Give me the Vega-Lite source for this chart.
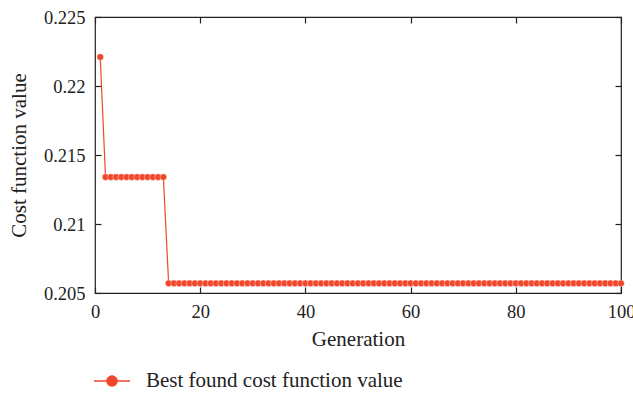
{
  "$schema": "https://vega.github.io/schema/vega-lite/v6.json",
  "autosize": "none",
  "width": 526,
  "height": 276,
  "padding": {"left": 95, "top": 17, "right": 12, "bottom": 100},
  "background": "white",
  "config": {
    "font": "Liberation Serif",
    "view": {"stroke": "#222", "strokeWidth": 1.2},
    "axis": {"grid": false, "domain": false, "offset": -6, "tickColor": "#222", "tickSize": 6, "tickWidth": 1.2, "labelFlush": false, "labelFontSize": 18.5, "labelColor": "#222", "titleFontSize": 21, "titleFontWeight": "normal", "titleColor": "#222", "labelFont": "Liberation Serif", "titleFont": "Liberation Serif"}
  },
  "data": {"values": [
    {"Generation": 1, "value": 0.2221, "series": "Best found cost function value"},
    {"Generation": 2, "value": 0.2134, "series": "Best found cost function value"},
    {"Generation": 3, "value": 0.2134, "series": "Best found cost function value"},
    {"Generation": 4, "value": 0.2134, "series": "Best found cost function value"},
    {"Generation": 5, "value": 0.2134, "series": "Best found cost function value"},
    {"Generation": 6, "value": 0.2134, "series": "Best found cost function value"},
    {"Generation": 7, "value": 0.2134, "series": "Best found cost function value"},
    {"Generation": 8, "value": 0.2134, "series": "Best found cost function value"},
    {"Generation": 9, "value": 0.2134, "series": "Best found cost function value"},
    {"Generation": 10, "value": 0.2134, "series": "Best found cost function value"},
    {"Generation": 11, "value": 0.2134, "series": "Best found cost function value"},
    {"Generation": 12, "value": 0.2134, "series": "Best found cost function value"},
    {"Generation": 13, "value": 0.2134, "series": "Best found cost function value"},
    {"Generation": 14, "value": 0.2057, "series": "Best found cost function value"},
    {"Generation": 15, "value": 0.2057, "series": "Best found cost function value"},
    {"Generation": 16, "value": 0.2057, "series": "Best found cost function value"},
    {"Generation": 17, "value": 0.2057, "series": "Best found cost function value"},
    {"Generation": 18, "value": 0.2057, "series": "Best found cost function value"},
    {"Generation": 19, "value": 0.2057, "series": "Best found cost function value"},
    {"Generation": 20, "value": 0.2057, "series": "Best found cost function value"},
    {"Generation": 21, "value": 0.2057, "series": "Best found cost function value"},
    {"Generation": 22, "value": 0.2057, "series": "Best found cost function value"},
    {"Generation": 23, "value": 0.2057, "series": "Best found cost function value"},
    {"Generation": 24, "value": 0.2057, "series": "Best found cost function value"},
    {"Generation": 25, "value": 0.2057, "series": "Best found cost function value"},
    {"Generation": 26, "value": 0.2057, "series": "Best found cost function value"},
    {"Generation": 27, "value": 0.2057, "series": "Best found cost function value"},
    {"Generation": 28, "value": 0.2057, "series": "Best found cost function value"},
    {"Generation": 29, "value": 0.2057, "series": "Best found cost function value"},
    {"Generation": 30, "value": 0.2057, "series": "Best found cost function value"},
    {"Generation": 31, "value": 0.2057, "series": "Best found cost function value"},
    {"Generation": 32, "value": 0.2057, "series": "Best found cost function value"},
    {"Generation": 33, "value": 0.2057, "series": "Best found cost function value"},
    {"Generation": 34, "value": 0.2057, "series": "Best found cost function value"},
    {"Generation": 35, "value": 0.2057, "series": "Best found cost function value"},
    {"Generation": 36, "value": 0.2057, "series": "Best found cost function value"},
    {"Generation": 37, "value": 0.2057, "series": "Best found cost function value"},
    {"Generation": 38, "value": 0.2057, "series": "Best found cost function value"},
    {"Generation": 39, "value": 0.2057, "series": "Best found cost function value"},
    {"Generation": 40, "value": 0.2057, "series": "Best found cost function value"},
    {"Generation": 41, "value": 0.2057, "series": "Best found cost function value"},
    {"Generation": 42, "value": 0.2057, "series": "Best found cost function value"},
    {"Generation": 43, "value": 0.2057, "series": "Best found cost function value"},
    {"Generation": 44, "value": 0.2057, "series": "Best found cost function value"},
    {"Generation": 45, "value": 0.2057, "series": "Best found cost function value"},
    {"Generation": 46, "value": 0.2057, "series": "Best found cost function value"},
    {"Generation": 47, "value": 0.2057, "series": "Best found cost function value"},
    {"Generation": 48, "value": 0.2057, "series": "Best found cost function value"},
    {"Generation": 49, "value": 0.2057, "series": "Best found cost function value"},
    {"Generation": 50, "value": 0.2057, "series": "Best found cost function value"},
    {"Generation": 51, "value": 0.2057, "series": "Best found cost function value"},
    {"Generation": 52, "value": 0.2057, "series": "Best found cost function value"},
    {"Generation": 53, "value": 0.2057, "series": "Best found cost function value"},
    {"Generation": 54, "value": 0.2057, "series": "Best found cost function value"},
    {"Generation": 55, "value": 0.2057, "series": "Best found cost function value"},
    {"Generation": 56, "value": 0.2057, "series": "Best found cost function value"},
    {"Generation": 57, "value": 0.2057, "series": "Best found cost function value"},
    {"Generation": 58, "value": 0.2057, "series": "Best found cost function value"},
    {"Generation": 59, "value": 0.2057, "series": "Best found cost function value"},
    {"Generation": 60, "value": 0.2057, "series": "Best found cost function value"},
    {"Generation": 61, "value": 0.2057, "series": "Best found cost function value"},
    {"Generation": 62, "value": 0.2057, "series": "Best found cost function value"},
    {"Generation": 63, "value": 0.2057, "series": "Best found cost function value"},
    {"Generation": 64, "value": 0.2057, "series": "Best found cost function value"},
    {"Generation": 65, "value": 0.2057, "series": "Best found cost function value"},
    {"Generation": 66, "value": 0.2057, "series": "Best found cost function value"},
    {"Generation": 67, "value": 0.2057, "series": "Best found cost function value"},
    {"Generation": 68, "value": 0.2057, "series": "Best found cost function value"},
    {"Generation": 69, "value": 0.2057, "series": "Best found cost function value"},
    {"Generation": 70, "value": 0.2057, "series": "Best found cost function value"},
    {"Generation": 71, "value": 0.2057, "series": "Best found cost function value"},
    {"Generation": 72, "value": 0.2057, "series": "Best found cost function value"},
    {"Generation": 73, "value": 0.2057, "series": "Best found cost function value"},
    {"Generation": 74, "value": 0.2057, "series": "Best found cost function value"},
    {"Generation": 75, "value": 0.2057, "series": "Best found cost function value"},
    {"Generation": 76, "value": 0.2057, "series": "Best found cost function value"},
    {"Generation": 77, "value": 0.2057, "series": "Best found cost function value"},
    {"Generation": 78, "value": 0.2057, "series": "Best found cost function value"},
    {"Generation": 79, "value": 0.2057, "series": "Best found cost function value"},
    {"Generation": 80, "value": 0.2057, "series": "Best found cost function value"},
    {"Generation": 81, "value": 0.2057, "series": "Best found cost function value"},
    {"Generation": 82, "value": 0.2057, "series": "Best found cost function value"},
    {"Generation": 83, "value": 0.2057, "series": "Best found cost function value"},
    {"Generation": 84, "value": 0.2057, "series": "Best found cost function value"},
    {"Generation": 85, "value": 0.2057, "series": "Best found cost function value"},
    {"Generation": 86, "value": 0.2057, "series": "Best found cost function value"},
    {"Generation": 87, "value": 0.2057, "series": "Best found cost function value"},
    {"Generation": 88, "value": 0.2057, "series": "Best found cost function value"},
    {"Generation": 89, "value": 0.2057, "series": "Best found cost function value"},
    {"Generation": 90, "value": 0.2057, "series": "Best found cost function value"},
    {"Generation": 91, "value": 0.2057, "series": "Best found cost function value"},
    {"Generation": 92, "value": 0.2057, "series": "Best found cost function value"},
    {"Generation": 93, "value": 0.2057, "series": "Best found cost function value"},
    {"Generation": 94, "value": 0.2057, "series": "Best found cost function value"},
    {"Generation": 95, "value": 0.2057, "series": "Best found cost function value"},
    {"Generation": 96, "value": 0.2057, "series": "Best found cost function value"},
    {"Generation": 97, "value": 0.2057, "series": "Best found cost function value"},
    {"Generation": 98, "value": 0.2057, "series": "Best found cost function value"},
    {"Generation": 99, "value": 0.2057, "series": "Best found cost function value"},
    {"Generation": 100, "value": 0.2057, "series": "Best found cost function value"}
  ]},
  "layer": [
    {
      "mark": {"type": "line", "strokeWidth": 1.2, "clip": false, "point": {"filled": true, "size": 45, "opacity": 1, "stroke": "white", "strokeWidth": 0.4}},
      "encoding": {
        "x": {"field": "Generation", "type": "quantitative", "scale": {"domain": [0, 100], "nice": false, "zero": false}, "axis": {"title": "Generation", "values": [0, 20, 40, 60, 80, 100], "labelPadding": 9, "titlePadding": 8}},
        "y": {"field": "value", "type": "quantitative", "scale": {"domain": [0.205, 0.225], "nice": false, "zero": false}, "axis": {"title": "Cost function value", "values": [0.205, 0.21, 0.215, 0.22, 0.225], "format": ".3~f", "labelPadding": 10, "titlePadding": 14}},
        "color": {"field": "series", "type": "nominal", "scale": {"range": ["#f0462a"]}, "legend": {"title": null, "orient": "none", "legendX": -2, "legendY": 345, "symbolType": "M-1,0H1M-0.28,0A0.28,0.28 0 1,0 0.28,0A0.28,0.28 0 1,0 -0.28,0Z", "symbolSize": 1300, "symbolStrokeWidth": 1.5, "symbolFillColor": "#f0462a", "labelFontSize": 21, "labelFont": "Liberation Serif", "labelColor": "#222", "labelOffset": 15, "labelLimit": 500}}
      }
    },
    {
      "mark": {"type": "point", "opacity": 0},
      "encoding": {
        "x": {"field": "Generation", "type": "quantitative", "scale": {"domain": [0, 100], "nice": false, "zero": false}, "axis": {"orient": "top", "title": null, "labels": false, "values": [0, 20, 40, 60, 80, 100]}},
        "y": {"field": "value", "type": "quantitative", "scale": {"domain": [0.205, 0.225], "nice": false, "zero": false}, "axis": {"orient": "right", "title": null, "labels": false, "values": [0.205, 0.21, 0.215, 0.22, 0.225]}}
      }
    }
  ],
  "resolve": {"axis": {"x": "independent", "y": "independent"}}
}
